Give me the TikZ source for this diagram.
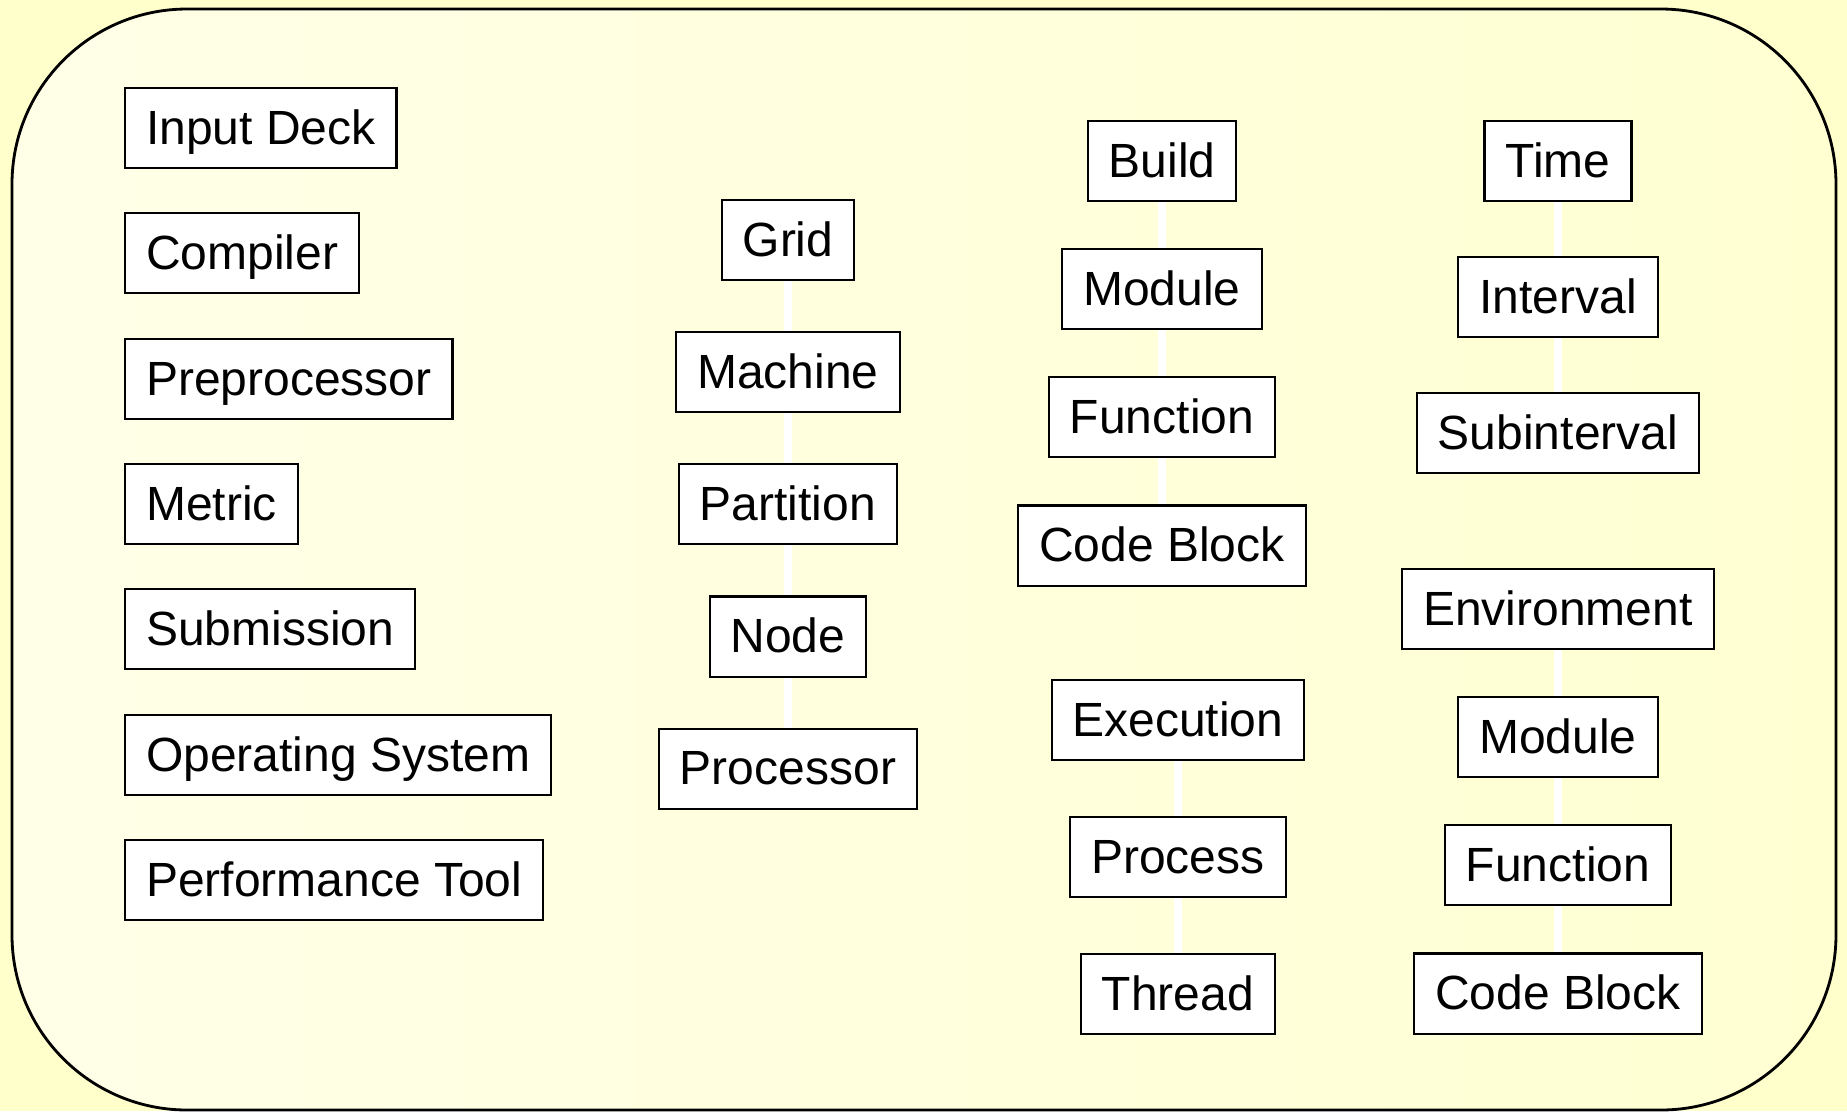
\documentclass[tikz,border=0pt]{standalone}
\usepackage{fontspec}
\setmainfont{Liberation Sans}
\usepackage{tikz}
\usetikzlibrary{positioning,backgrounds}
\definecolor{paper}{RGB}{255,255,204}
\definecolor{panelL}{RGB}{255,255,232}
\definecolor{panelR}{RGB}{255,255,210}
\tikzset{
  box/.style={draw, line width=0.6pt, fill=white, rectangle, minimum height=0.8cm, inner xsep=0.21cm, text height=0.42cm, text depth=0.1cm, font=\fontsize{13.65}{16}\selectfont},
  link/.style={draw=white, line width=0.08cm},
  panel/.style={draw=black, line width=0.8pt, rounded corners=1.75cm, left color=panelL, right color=panelR}
}

\begin{document}
\begin{tikzpicture}[x=0.01cm, y=-0.01cm]
\useasboundingbox (0,0) rectangle (1847,1111);
% left column, no links
\node[box, anchor=west] (deck) at (124,128) {Input Deck};
\node[box, anchor=west] (compiler) at (124,253) {Compiler};
\node[box, anchor=west] (prep) at (124,379) {Preprocessor};
\node[box, anchor=west] (metric) at (124,504) {Metric};
\node[box, anchor=west] (submit) at (124,629) {Submission};
\node[box, anchor=west] (os) at (124,755) {Operating System};
\node[box, anchor=west] (perf) at (124,880) {Performance Tool};
% grid column
\node[box] (grid) at (788,240) {Grid};
\node[box, below=0.50cm of grid] (machine) {Machine};
\node[box, below=0.50cm of machine] (partition) {Partition};
\node[box, below=0.50cm of partition] (node) {Node};
\node[box, below=0.50cm of node] (proc) {Processor};
% build column
\node[box] (build) at (1162,161) {Build};
\node[box, below=0.46cm of build] (bmodule) {Module};
\node[box, below=0.46cm of bmodule] (bfunction) {Function};
\node[box, below=0.46cm of bfunction] (bcode) {Code Block};
% execution column
\node[box] (exec) at (1178,720) {Execution};
\node[box, below=0.55cm of exec] (process) {Process};
\node[box, below=0.55cm of process] (thread) {Thread};
% time column
\node[box] (time) at (1558,161) {Time};
\node[box, below=0.54cm of time] (interval) {Interval};
\node[box, below=0.54cm of interval] (subint) {Subinterval};
% environment column
\node[box] (env) at (1558,609) {Environment};
\node[box, below=0.46cm of env] (emodule) {Module};
\node[box, below=0.46cm of emodule] (efunction) {Function};
\node[box, below=0.46cm of efunction] (ecode) {Code Block};
\begin{scope}[on background layer]
  \fill[paper] (0,0) rectangle (1847,1111);
  \draw[panel] (12,9) rectangle (1836,1110);
  \draw[link] (grid) -- (machine) -- (partition) -- (node) -- (proc);
  \draw[link] (build) -- (bmodule) -- (bfunction) -- (bcode);
  \draw[link] (exec) -- (process) -- (thread);
  \draw[link] (time) -- (interval) -- (subint);
  \draw[link] (env) -- (emodule) -- (efunction) -- (ecode);
\end{scope}
\end{tikzpicture}
\end{document}
